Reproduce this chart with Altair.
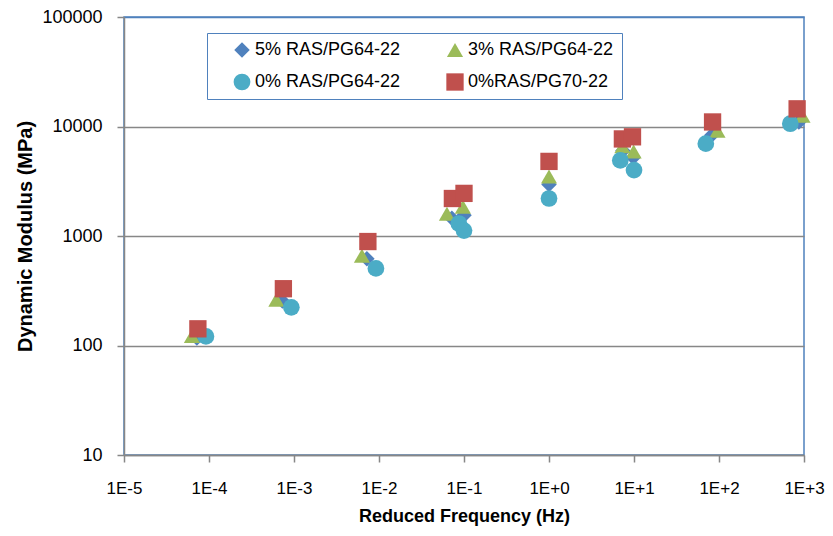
import altair as alt
import pandas as pd

series = ["5% RAS/PG64-22", "3% RAS/PG64-22", "0% RAS/PG64-22", "0%RAS/PG70-22"]

freq_5 = [7.2e-5, 7.3e-4, 7.2e-3, 0.072, 0.10, 1.0, 7.4, 9.8, 82, 870]
mod_5 = [117, 255, 620, 1450, 1550, 2950, 6000, 5200, 8300, 11000]

freq_3 = [6.3e-5, 6.2e-4, 6.3e-3, 0.063, 0.097, 1.0, 7.3, 9.9, 96, 960]
mod_3 = [122, 262, 660, 1600, 1850, 3500, 6600, 5900, 9150, 12500]

freq_0 = [9.2e-5, 9.3e-4, 9.2e-3, 0.087, 0.10, 1.0, 6.9, 10.0, 70, 690]
mod_0 = [121, 223, 506, 1300, 1120, 2200, 4900, 4000, 6970, 10600]

freq_70 = [7.4e-5, 7.5e-4, 7.4e-3, 0.073, 0.10, 1.0, 7.3, 9.6, 84, 830]
mod_70 = [142, 330, 890, 2200, 2450, 4800, 7700, 8050, 11000, 14500]

x_ticks = [1e-5, 1e-4, 1e-3, 1e-2, 1e-1, 1, 10, 100, 1000]
y_ticks = [10, 100, 1000, 10000, 100000]

colors = ["#4F81BD", "#9BBB59", "#4BACC6", "#C0504D"]
shapes = ["diamond", "triangle-up", "circle", "square"]
sizes = [240, 300, 225, 289]

rows = []
for i, (name, fs, ms) in enumerate([
    (series[0], freq_5, mod_5),
    (series[1], freq_3, mod_3),
    (series[2], freq_0, mod_0),
    (series[3], freq_70, mod_70),
]):
    for f, m in zip(fs, ms):
        rows.append({"series": name, "freq": f, "modulus": m, "layer": i})
df = pd.DataFrame(rows)

FONT = "Liberation Sans"
GRAY = "#878787"
BLUE = "#4F81BD"

chart = alt.Chart(df).mark_point(filled=True, opacity=1, strokeWidth=0).encode(
    x=alt.X(
        "freq:Q",
        scale=alt.Scale(type="log", domain=[1e-5, 1000], nice=False),
        axis=alt.Axis(
            values=x_ticks,
            labelExpr="'1E' + (datum.value >= 1 ? '+' : '') + round(log(datum.value) / LN10)",
            grid=False,
            title="Reduced Frequency (Hz)",
            titleFontSize=18,
            titleFontWeight="bold",
            titlePadding=11,
            labelFontSize=17,
            labelPadding=18,
            tickSize=7,
            tickColor=GRAY,
            tickWidth=1.5,
            domainColor=GRAY,
            domainWidth=1.5,
            labelColor="black",
            titleColor="black",
            labelFlush=False,
        ),
    ),
    y=alt.Y(
        "modulus:Q",
        scale=alt.Scale(type="log", domain=[10, 100000], nice=False),
        axis=alt.Axis(
            values=y_ticks,
            format="d",
            grid=True,
            gridColor={"condition": {"test": "datum.value >= 100000", "value": BLUE}, "value": GRAY},
            gridWidth=1.5,
            title="Dynamic Modulus (MPa)",
            titleFontSize=20,
            titleFontWeight="bold",
            titlePadding=6,
            labelFontSize=18,
            labelPadding=15,
            tickSize=7,
            tickColor=GRAY,
            tickWidth=1.5,
            domainColor=GRAY,
            domainWidth=1.5,
            labelColor="black",
            titleColor="black",
            labelFlush=False,
        ),
    ),
    color=alt.Color(
        "series:N",
        scale=alt.Scale(domain=series, range=colors),
        title=None,
        legend=alt.Legend(
            orient="none",
            direction="horizontal",
            legendX=83,
            legendY=16,
            columns=2,
            columnPadding=27,
            rowPadding=14,
            padding=8,
            symbolOffset=18,
            labelFontSize=18,
            labelColor="black",
            labelOffset=4,
            symbolSize=170,
            symbolStrokeWidth=0,
            strokeColor=BLUE,
            fillColor="white",
        ),
    ),
    shape=alt.Shape("series:N", scale=alt.Scale(domain=series, range=shapes), title=None),
    size=alt.Size("series:N", scale=alt.Scale(domain=series, range=sizes), legend=None),
    order=alt.Order("layer:Q"),
).properties(
    width=680,
    height=438,
    autosize=alt.AutoSizeParams(type="none"),
    padding={"left": 116, "top": 9, "right": 21, "bottom": 73},
).configure(
    font=FONT,
).configure_view(
    stroke=BLUE,
    strokeWidth=1.5,
)

chart.save("out.html", embed_options={"renderer": "svg", "actions": False})
